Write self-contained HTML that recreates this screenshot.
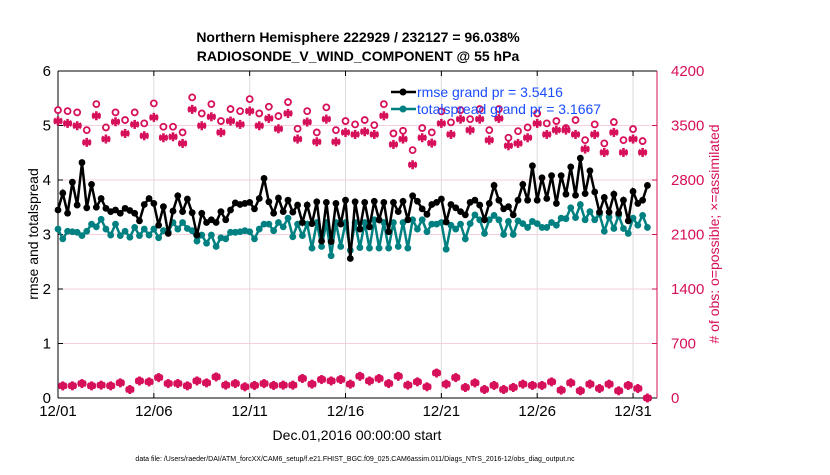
<!DOCTYPE html>
<html><head><meta charset="utf-8"><style>
body{margin:0;background:#fff;font-family:"Liberation Sans",sans-serif}
svg text{font-family:"Liberation Sans",sans-serif}
</style></head><body>
<svg id="chart" width="830" height="470" viewBox="0 0 830 470" xmlns="http://www.w3.org/2000/svg">
<rect width="830" height="470" fill="#fff"/>
<text x="358" y="42" text-anchor="middle" font-size="14" font-weight="bold">Northern Hemisphere 222929 / 232127 = 96.038%</text>
<text x="358" y="61" text-anchor="middle" font-size="14" font-weight="bold">RADIOSONDE_V_WIND_COMPONENT @ 55 hPa</text>
<g id="grid"></g>
<g id="axes"></g>
<g id="marks"></g>
<text transform="translate(38,234) rotate(-90)" text-anchor="middle" font-size="14">rmse and totalspread</text>
<text transform="translate(719,234) rotate(-90)" text-anchor="middle" font-size="14" fill="#d6105a"># of obs: o=possible; ×=assimilated</text>
<text x="357" y="440" text-anchor="middle" font-size="14">Dec.01,2016 00:00:00 start</text>
<text x="355" y="461" text-anchor="middle" font-size="7">data file: /Users/raeder/DAI/ATM_forcXX/CAM6_setup/f.e21.FHIST_BGC.f09_025.CAM6assim.011/Diags_NTrS_2016-12/obs_diag_output.nc</text>
<g>
<line x1="391" y1="92" x2="416" y2="92" stroke="#000" stroke-width="2.5"/><circle cx="403" cy="92" r="3.5" fill="#000"/>
<text x="417" y="97" font-size="14" fill="#1a4dff">rmse grand pr = 3.5416</text>
<line x1="391" y1="109" x2="416" y2="109" stroke="#008080" stroke-width="2.5"/><circle cx="403" cy="109" r="3.5" fill="#008080"/>
<text x="417" y="114" font-size="14" fill="#1a4dff">totalspread grand pr = 3.1667</text>
</g>
</svg>
<script>
const xTickLabels=["12/01","12/06","12/11","12/16","12/21","12/26","12/31"];
const xTickDays=[0,5,10,15,20,25,30];
const leftTicks=[0,1,2,3,4,5,6];
const rightTicks=[0,700,1400,2100,2800,3500,4200];
const rmse=[3.45,3.76,3.39,3.96,3.54,4.32,3.49,3.92,3.50,3.66,3.48,3.42,3.45,3.39,3.48,3.44,3.39,3.25,3.55,3.66,3.57,3.17,3.51,3.02,3.43,3.71,3.42,3.65,3.40,2.99,3.39,3.22,3.27,3.22,3.42,3.27,3.45,3.58,3.55,3.57,3.59,3.47,3.66,4.03,
3.60,3.39,3.67,3.42,3.63,3.41,3.54,3.22,3.54,3.20,3.60,2.88,3.59,2.87,3.57,3.19,3.63,2.56,3.60,3.10,3.59,3.14,3.61,3.27,3.59,3.05,3.59,3.42,3.61,3.27,3.71,3.61,3.47,3.37,3.55,3.59,3.65,3.23,3.55,3.49,3.42,
3.36,3.59,3.63,3.54,3.27,3.57,3.90,3.63,3.47,3.51,3.36,3.63,3.92,3.63,4.26,3.63,4.04,3.66,4.08,3.57,4.08,3.74,4.24,3.72,4.40,3.75,4.17,3.78,3.41,3.68,3.41,3.74,3.39,3.63,3.25,3.79,3.57,3.63,3.90];
const spread=[3.10,2.92,3.06,3.05,3.04,2.98,3.06,3.19,3.14,3.28,3.10,2.99,3.19,2.98,3.06,2.95,3.13,2.98,3.10,2.99,3.10,2.94,3.07,3.05,3.22,3.10,3.22,3.11,3.07,2.88,2.99,2.84,2.99,2.78,2.94,2.92,3.04,3.04,3.05,3.07,3.05,2.92,3.10,3.19,
3.19,3.07,3.22,3.14,3.30,2.96,3.19,2.98,3.19,2.75,3.22,2.78,3.22,2.61,3.22,2.78,3.22,2.71,3.22,2.76,3.22,2.75,3.27,2.75,3.22,2.75,3.22,2.78,3.22,2.75,3.27,3.10,3.27,3.05,3.19,3.19,3.22,2.73,3.17,3.10,3.19,
2.92,3.20,3.36,3.27,3.02,3.27,3.35,3.27,3.00,3.24,3.00,3.25,3.20,3.13,3.24,3.20,3.13,3.13,3.22,3.17,3.30,3.29,3.49,3.31,3.55,3.27,3.42,3.27,3.37,3.06,3.32,3.11,3.35,3.11,3.02,3.30,3.17,3.35,3.13];
const possibleMain=[3698,3685,3668,3441,3775,3475,3668,3570,3668,3527,3784,3484,3484,3411,3861,3655,3775,3557,3711,3685,3839,3655,
3741,3621,3801,3458,3685,3411,3733,3441,3557,3514,3570,3505,3775,3398,3432,3184,3467,3411,3681,3540,3698,
3582,3711,3441,3711,3343,3428,3475,3655,3527,3557,3467,3570,3312,3514,3270,3544,3312,3454,3300];
const assimMain=[3557,3527,3497,3283,3625,3326,3548,3398,3514,3368,3604,3343,3355,3270,3707,3497,3612,3411,3557,3514,3685,3497,
3591,3458,3655,3326,3544,3291,3582,3291,3411,3385,3420,3385,3625,3257,3326,2996,3343,3274,3527,3385,3582,
3441,3582,3312,3591,3240,3270,3343,3527,3385,3441,3441,3385,3197,3385,3154,3411,3154,3326,3154];
const possibleOff=[158,158,188,158,167,158,197,111,222,210,265,188,188,158,222,197,274,167,188,146,163,188,163,167,167,253,180,240,222,240,180,282,222,253,188,282,167,210,146,325,180,265,137,197,111,163,111,137,180,163,163,210,103,197,94,180,124,180,94,163,124,0];
const assimOff=[155,156,185,156,165,156,194,109,219,207,262,185,186,156,219,194,270,165,185,144,161,185,161,165,165,250,178,237,219,237,178,278,219,250,185,278,165,207,144,320,178,262,135,194,109,161,109,135,178,161,161,207,101,194,93,178,122,178,93,161,122,0];

const NS='http://www.w3.org/2000/svg';
const X0=58,X1=657,Y0=398,Y1=71;
const dayMin=0,dayMax=31.25;
function xs(d){return X0+(d-dayMin)/(dayMax-dayMin)*(X1-X0);}
function yl(v){return Y0-v/6*(Y0-Y1);}
function yr(v){return Y0-v/4200*(Y0-Y1);}
function mk(tag,attrs,parent){const e=document.createElementNS(NS,tag);for(const k in attrs)e.setAttribute(k,attrs[k]);parent.appendChild(e);return e;}
const grid=document.getElementById('grid'),axes=document.getElementById('axes'),marks=document.getElementById('marks');
const MAG='#d6105a';
xTickDays.forEach((d,i)=>{
  const l=mk('line',{x1:xs(d),x2:xs(d),y1:Y1,y2:Y0,stroke:'#dcdcdc','stroke-width':1},grid);
  
  
  const t=mk('line',{x1:xs(d),x2:xs(d),y1:Y0,y2:Y0-5,stroke:'#000'},axes);
  
  
  const t2=mk('line',{x1:xs(d),x2:xs(d),y1:Y1,y2:Y1+5,stroke:'#000'},axes);
  
  
  const tx=mk('text',{x:xs(d),y:416,'text-anchor':'middle','font-size':15},axes);
  tx.textContent=xTickLabels[i];
  
  
});
rightTicks.forEach(v=>{
  const l=mk('line',{x1:X0,x2:X1,y1:yr(v),y2:yr(v),stroke:'#f5cfdc','stroke-width':1},grid);
  
  
  const t=mk('line',{x1:X1,x2:X1-5,y1:yr(v),y2:yr(v),stroke:MAG},axes);
  
  
  const tx=mk('text',{x:671,y:yr(v)+5,'font-size':15,fill:MAG},axes);
  tx.textContent=v;
  
  
});
leftTicks.forEach(v=>{
  const t=mk('line',{x1:X0,x2:X0+5,y1:yl(v),y2:yl(v),stroke:'#000'},axes);
  
  
  const tx=mk('text',{x:51,y:yl(v)+5,'text-anchor':'end','font-size':15},axes);
  tx.textContent=v;
  
  
});
const la=mk('line',{x1:X0,x2:X0,y1:Y1,y2:Y0,stroke:'#000','stroke-width':1},axes);


const ba=mk('line',{x1:X0,x2:X1,y1:Y0,y2:Y0,stroke:'#000','stroke-width':1},axes);


const ta=mk('line',{x1:X0,x2:X1,y1:Y1,y2:Y1,stroke:'#000','stroke-width':1},axes);


const ra=mk('line',{x1:X1,x2:X1,y1:Y1,y2:Y0,stroke:MAG,'stroke-width':1},axes);



function star(x,y,g){
  const s=mk('g',{stroke:MAG,'stroke-width':2.6},g);
  
  
  [[0,4.5],[4,2.3],[4,-2.3]].forEach(([dx,dy])=>mk('line',{x1:x-dx,y1:y-dy,x2:x+dx,y2:y+dy},s));
  mk('line',{x1:x-4.5,y1:y,x2:x+4.5,y2:y},s);
}
function circ(x,y,g){
  const c=mk('circle',{cx:x,cy:y,r:3,fill:'#fff',stroke:MAG,'stroke-width':1.8},g);
  
  
}
const obsG=mk('g',{},marks);


possibleMain.forEach((v,i)=>{const d=i*0.5;circ(xs(d),yr(v),obsG);star(xs(d),yr(assimMain[i]),obsG);});
possibleOff.forEach((v,i)=>{const d=i*0.5+0.25;circ(xs(d),yr(v),obsG);star(xs(d),yr(assimOff[i]),obsG);});

function series(arr,color,name){
  const g=mk('g',{},marks);
  
  
  const pts=arr.map((v,i)=>xs(i*0.25).toFixed(1)+','+yl(v).toFixed(1)).join(' ');
  const pl=mk('polyline',{points:pts,fill:'none',stroke:color,'stroke-width':2.5},g);
  
  
  arr.forEach((v,i)=>{
    const c=mk('circle',{cx:xs(i*0.25),cy:yl(v),r:3.4,fill:color},g);
    
    
  });
}
series(spread,'#008080','totalspread-series');
series(rmse,'#000000','rmse-series');
</script>
</body></html>
